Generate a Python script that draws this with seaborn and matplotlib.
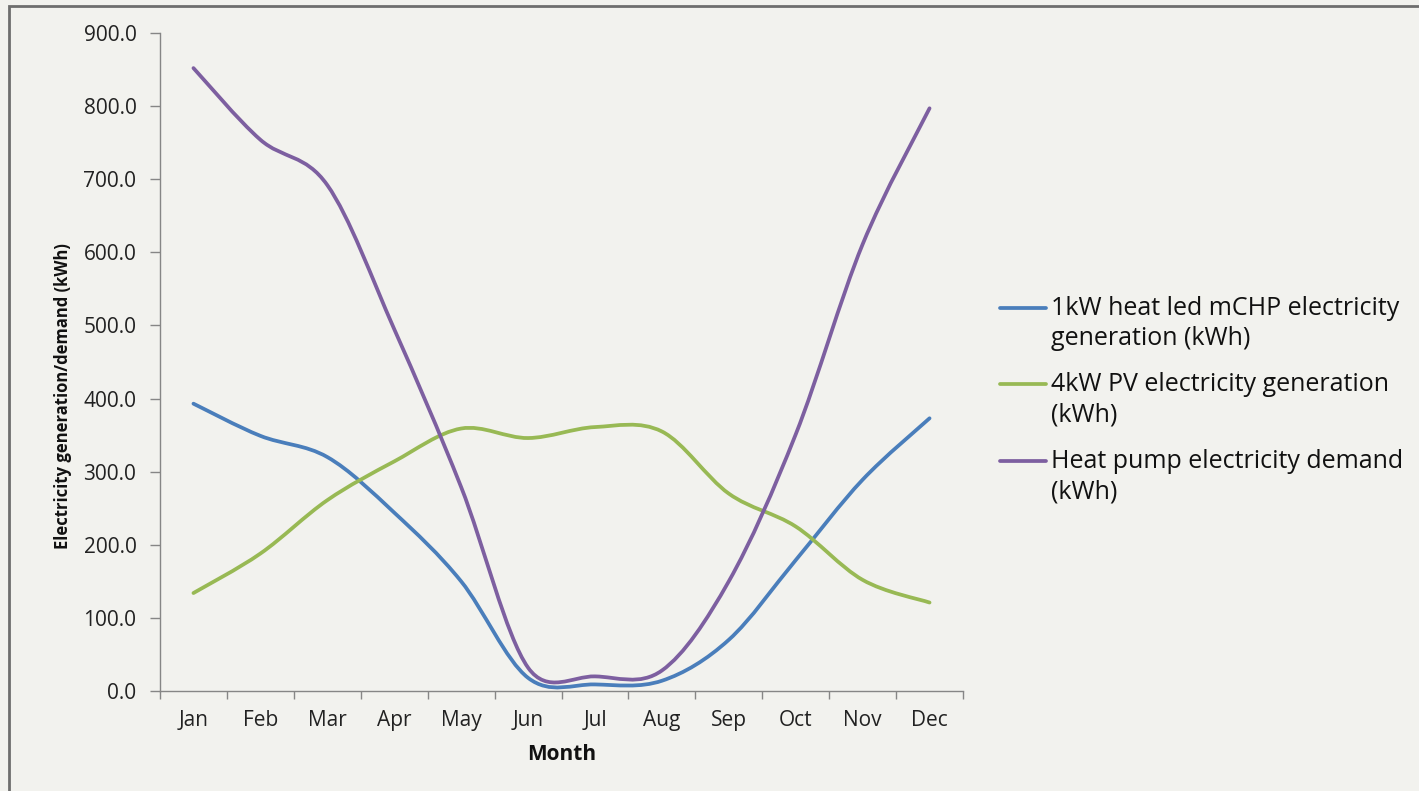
import matplotlib
matplotlib.use("Agg")
import matplotlib.pyplot as plt
import numpy as np
import pandas as pd
import seaborn as sns
from matplotlib.legend_handler import HandlerLine2D
from matplotlib.lines import Line2D
from matplotlib.patches import PathPatch, Rectangle
from matplotlib.path import Path

months = ["Jan", "Feb", "Mar", "Apr", "May", "Jun",
          "Jul", "Aug", "Sep", "Oct", "Nov", "Dec"]
mchp_kwh = [393, 349, 320, 244, 150, 18, 9, 14, 70, 179, 289, 373]
pv_kwh = [134, 188, 261, 314, 359, 346, 361, 355, 270, 225, 152, 121]
heat_pump_kwh = [852, 754, 692, 495, 279, 32, 20, 28, 150, 351, 611, 797]

series_names = [
    "1kW heat led mCHP electricity\ngeneration (kWh)",
    "4kW PV electricity generation\n(kWh)",
    "Heat pump electricity demand\n(kWh)",
]
colors = ["#4A7EBB", "#98B954", "#7D5FA0"]
y_ticks = np.arange(0, 901, 100)

df = pd.DataFrame({
    "Month": months * 3,
    "kWh": mchp_kwh + pv_kwh + heat_pump_kwh,
    "Series": np.repeat(series_names, len(months)),
})

BG = "#F2F2EE"
sns.set_theme(style="white")
plt.rcParams["font.family"] = ["Open Sans", "DejaVu Sans"]

fig = plt.figure(figsize=(14.19, 7.91), dpi=100, facecolor=BG)
ax = fig.add_axes([160 / 1419, 1 - 691 / 791, 803 / 1419, 658 / 791])
ax.set_facecolor("none")

sns.lineplot(data=df, x="Month", y="kWh", hue="Series", palette=colors,
             sort=False, legend=False, ax=ax)

ax.set_xlim(-0.5, len(months) - 0.5)
ax.set_ylim(0, 900)

# pixels per data unit, used so the smoothing behaves like Excel's (screen space)
px_x = 803 / len(months)
px_y = 658 / 900


def smooth_path(xs, ys):
    # Excel-style smoothed line: cubic Bezier through every data point,
    # tangent handles clamped to half of the segment length
    pts = np.column_stack([xs, ys])
    scale = np.array([px_x, px_y])
    dist = lambda a, b: np.hypot(*((a - b) * scale))
    n = len(pts)
    verts = [pts[0]]
    codes = [Path.MOVETO]
    for i in range(n - 1):
        p0 = pts[max(i - 1, 0)]
        p1, p2 = pts[i], pts[i + 1]
        p3 = pts[min(i + 2, n - 1)]
        d12 = dist(p1, p2)
        d02, d13 = dist(p0, p2), dist(p1, p3)
        f0 = f1 = 1 / 6
        if d02 * f0 > d12 / 2:
            f0 = d12 / (2 * d02)
        if d13 * f1 > d12 / 2:
            f1 = d12 / (2 * d13)
        verts += [p1 + (p2 - p0) * f0, p2 - (p3 - p1) * f1, p2]
        codes += [Path.CURVE4] * 3
    return Path(verts, codes)


for line in list(ax.lines):
    xs = np.asarray(line.get_xdata(), float)
    ys = np.asarray(line.get_ydata(), float)
    ax.add_patch(PathPatch(smooth_path(xs, ys), fill=False,
                           edgecolor=line.get_color(), lw=2.7,
                           capstyle="round", joinstyle="round"))
    line.remove()

ax.set_yticks(y_ticks)
ax.set_yticklabels([f"{v:.1f}" for v in y_ticks])
ax.set_xticks(range(len(months)))
ax.set_xticklabels(months)
ax.set_xticks(np.arange(-0.5, len(months)), minor=True)
ax.tick_params(axis="x", which="major", length=0, pad=14, labelsize=15,
               labelcolor="#222222")
ax.tick_params(axis="x", which="minor", length=6, width=1, color="#868686",
               direction="out", bottom=True)
ax.tick_params(axis="y", length=7, width=1, color="#868686", direction="out",
               left=True, pad=10, labelsize=15, labelcolor="#222222")

for side in ["top", "right"]:
    ax.spines[side].set_visible(False)
for side in ["left", "bottom"]:
    ax.spines[side].set_color("#868686")
    ax.spines[side].set_linewidth(1)

ax.set_xlabel("Month", fontsize=15, fontweight="bold", color="#111111")
ax.xaxis.set_label_coords(0.5, -0.08)
ax.set_ylabel("Electricity generation/demand (kWh)", fontsize=12,
              fontweight="bold", color="#111111")
ax.yaxis.set_label_coords(-0.11, 0.448)


class FirstLineHandler(HandlerLine2D):
    # put the legend line beside the first text line, as Excel does
    def create_artists(self, legend, orig_handle, xdescent, ydescent,
                       width, height, fontsize, trans):
        artists = super().create_artists(legend, orig_handle, xdescent,
                                         ydescent, width, height, fontsize,
                                         trans)
        for a in artists:
            a.set_ydata(np.asarray(a.get_ydata()) + 12)
        return artists


handles = [Line2D([0], [0], color=c, lw=2.7) for c in colors]
leg = fig.legend(handles, series_names, loc="center left",
                 bbox_to_anchor=(1000 / 1419, 1 - 400 / 791), frameon=False,
                 fontsize=18, handlelength=1.85, handletextpad=0.2,
                 labelspacing=0.83, borderpad=0, borderaxespad=0,
                 handler_map={Line2D: FirstLineHandler()})
for t in leg.get_texts():
    t.set_linespacing(1.3)
    t.set_color("#111111")

fig.patches.append(Rectangle((9 / 1419, -0.1), 1.2, 1.1 - 6 / 791,
                             transform=fig.transFigure, fill=False,
                             edgecolor="#6E6E6E", lw=2))

fig.savefig("out.png", dpi=100, facecolor=BG)
